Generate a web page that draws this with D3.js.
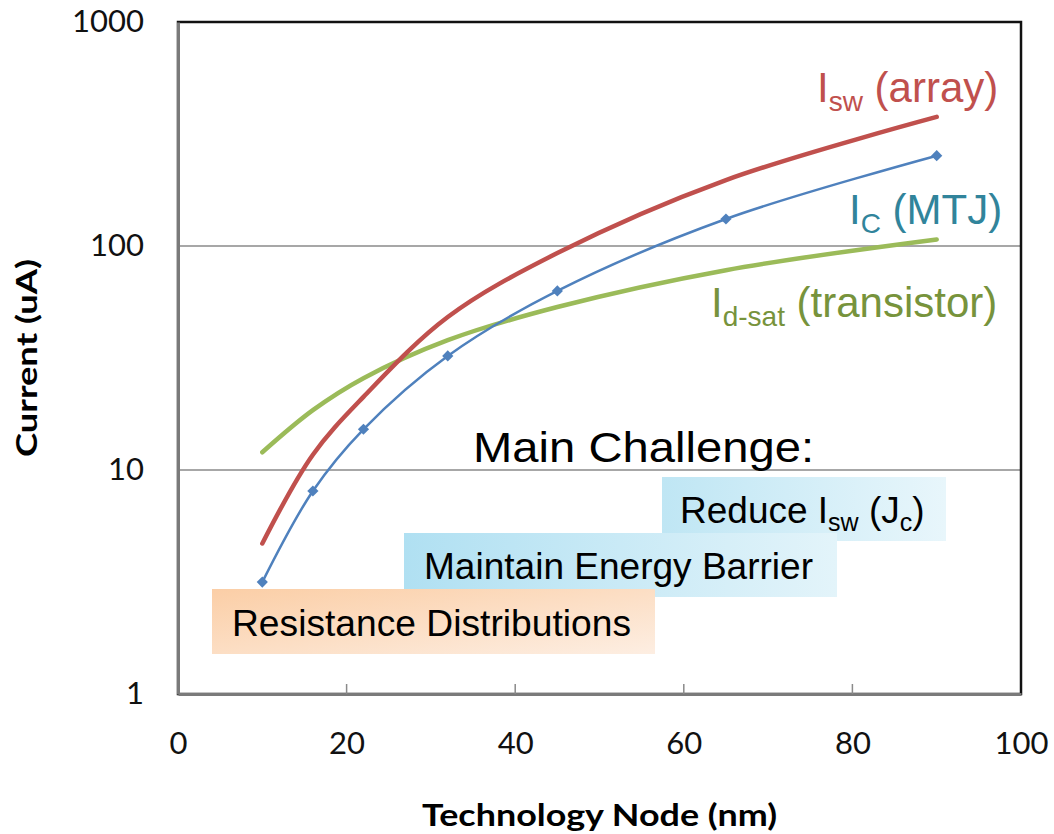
<!DOCTYPE html>
<html>
<head>
<meta charset="utf-8">
<script src="https://cdn.jsdelivr.net/npm/d3@7"></script>
<style>
  html, body { margin: 0; padding: 0; background: #fff; }
  svg { display: block; }
</style>
</head>
<body>
<div id="chart"></div>
<script>
// Data
const nodes = [10, 16, 22, 32, 45, 65, 90];            // technology node (nm)
const icMtj = [3.16, 8.06, 15.2, 32.3, 63, 132, 253];   // I_C (MTJ)
const iswArray = [4.7, 11.7, 21.2, 48.2, 93, 197, 377]; // I_sw (array)
const idSat = [12.0, 18.5, 25.7, 38, 53.4, 78, 107];    // I_d-sat (transistor)
const xTicks = [0, 20, 40, 60, 80, 100];
const yTicks = [1, 10, 100, 1000];

const W = 1054, H = 834;
const plotL = 178, plotR = 1021, plotT = 22, plotB = 694;

const svg = d3.select("#chart").append("svg")
    .attr("width", W)
    .attr("height", H);

const defs = svg.append("defs");

const x = d3.scaleLinear().domain([0, 100]).range([plotL, plotR]);
const y = d3.scaleLog().domain([1, 1000]).range([plotB, plotT]);

// gridlines
svg.append("g")
    .selectAll("line")
    .data(yTicks.slice(1, -1))
    .join("line")
    .attr("x1", plotL).attr("x2", plotR)
    .attr("y1", d => y(d)).attr("y2", d => y(d))
    .attr("stroke", "#8a8a8a")
    .attr("stroke-width", 1.5);

// plot border
svg.append("rect")
    .attr("x", plotL).attr("y", plotT)
    .attr("width", plotR - plotL).attr("height", plotB - plotT)
    .attr("fill", "none")
    .attr("stroke", "#111")
    .attr("stroke-width", 2.5);

// axes (gray, drawn on top of the border)
const xAxis = d3.axisBottom(x).tickValues(xTicks).tickSize(0).tickPadding(38);
const gx = svg.append("g")
    .attr("transform", `translate(0,${plotB})`)
    .call(xAxis);
gx.select(".domain").attr("stroke", "#7a7a7a").attr("stroke-width", 3);
gx.selectAll("text")
    .attr("font-family", "Lato, 'Open Sans', sans-serif")
    .attr("font-size", 31)
    .attr("fill", "#111");

// inner tick marks on the x axis
svg.append("g")
    .selectAll("line")
    .data(xTicks.slice(1, -1))
    .join("line")
    .attr("x1", d => x(d)).attr("x2", d => x(d))
    .attr("y1", plotB).attr("y2", plotB - 10)
    .attr("stroke", "#8a8a8a")
    .attr("stroke-width", 1.5);

const yAxis = d3.axisLeft(y).tickValues(yTicks).tickFormat(d3.format("d")).tickSize(0).tickPadding(34);
const gy = svg.append("g")
    .attr("transform", `translate(${plotL},0)`)
    .call(yAxis);
gy.select(".domain").attr("stroke", "#7a7a7a").attr("stroke-width", 3);
gy.selectAll("text")
    .attr("font-family", "Lato, 'Open Sans', sans-serif")
    .attr("font-size", 31)
    .attr("fill", "#111");

// axis titles
svg.append("text")
    .attr("transform", `translate(37,${(plotT + plotB) / 2}) rotate(-90)`)
    .attr("text-anchor", "middle")
    .attr("font-family", "Lato, 'Open Sans', sans-serif")
    .attr("font-weight", "bold")
    .attr("font-size", 29)
    .attr("textLength", 198)
    .attr("lengthAdjust", "spacingAndGlyphs")
    .text("Current (uA)");

svg.append("text")
    .attr("x", (plotL + plotR) / 2)
    .attr("y", 826)
    .attr("text-anchor", "middle")
    .attr("font-family", "Lato, 'Open Sans', sans-serif")
    .attr("font-weight", "bold")
    .attr("font-size", 30)
    .attr("textLength", 355)
    .attr("lengthAdjust", "spacingAndGlyphs")
    .text("Technology Node (nm)");

// challenge boxes
const grad = (id, c0, c1, x2, y2) => {
    const g = defs.append("linearGradient").attr("id", id)
        .attr("x1", "0%").attr("y1", "0%").attr("x2", x2).attr("y2", y2);
    g.append("stop").attr("offset", "0%").attr("stop-color", c0);
    g.append("stop").attr("offset", "100%").attr("stop-color", c1);
};
grad("gBlue1", "#bfe6f4", "#e8f6fb", "100%", "0%");
grad("gBlue2", "#b0e0f2", "#e3f4fa", "100%", "0%");
grad("gOrange", "#fbcea6", "#fdeee2", "100%", "100%");

const font = "'Liberation Sans', Arial, sans-serif";

const box = (x0, y0, w, h, fill) => svg.append("rect")
    .attr("x", x0).attr("y", y0).attr("width", w).attr("height", h)
    .attr("fill", `url(#${fill})`);

box(662, 477, 284, 64, "gBlue1");
const t1 = svg.append("text").attr("x", 680).attr("y", 523)
    .attr("font-family", font).attr("font-size", 37).attr("fill", "#000");
t1.append("tspan").text("Reduce I");
t1.append("tspan").attr("font-size", 25).attr("dy", 8).text("sw");
t1.append("tspan").attr("dy", -8).text(" (J");
t1.append("tspan").attr("font-size", 25).attr("dy", 8).text("c");
t1.append("tspan").attr("dy", -8).text(")");

box(404, 533, 433, 64, "gBlue2");
svg.append("text").attr("x", 424).attr("y", 579)
    .attr("font-family", font).attr("font-size", 37).attr("fill", "#000")
    .attr("textLength", 389).attr("lengthAdjust", "spacingAndGlyphs")
    .text("Maintain Energy Barrier");

box(212, 589, 443, 65, "gOrange");
svg.append("text").attr("x", 232).attr("y", 636)
    .attr("font-family", font).attr("font-size", 37).attr("fill", "#000")
    .attr("textLength", 399).attr("lengthAdjust", "spacingAndGlyphs")
    .text("Resistance Distributions");

svg.append("text").attr("x", 473).attr("y", 462)
    .attr("font-family", font).attr("font-size", 42).attr("fill", "#000")
    .attr("textLength", 341).attr("lengthAdjust", "spacingAndGlyphs")
    .text("Main Challenge:");

// series lines
const line = vals => d3.line()
    .x((d, i) => x(nodes[i]))
    .y(d => y(d))
    .curve(d3.curveCatmullRom.alpha(0.5))(vals);

svg.append("path").attr("d", line(idSat))
    .attr("fill", "none").attr("stroke", "#9BBB59")
    .attr("stroke-width", 4.5).attr("stroke-linecap", "round");

svg.append("path").attr("d", line(iswArray))
    .attr("fill", "none").attr("stroke", "#C0504D")
    .attr("stroke-width", 4.5).attr("stroke-linecap", "round");

svg.append("path").attr("d", line(icMtj))
    .attr("fill", "none").attr("stroke", "#4F81BD")
    .attr("stroke-width", 2.5);

svg.append("g")
    .selectAll("path")
    .data(icMtj)
    .join("path")
    .attr("transform", (d, i) => `translate(${x(nodes[i])},${y(d)})`)
    .attr("d", d3.symbol(d3.symbolDiamond2, 80))
    .attr("fill", "#4F81BD");

// series labels
const label = (x0, y0, main, sub, rest, color) => {
    const t = svg.append("text").attr("x", x0).attr("y", y0)
        .attr("font-family", font).attr("font-size", 42).attr("fill", color);
    t.append("tspan").text(main);
    t.append("tspan").attr("font-size", 28).attr("dy", 9).text(sub);
    t.append("tspan").attr("dy", -9).text(rest);
    return t;
};
label(817, 102, "I", "sw", " (array)", "#C0504D");
label(849, 224, "I", "C", " (MTJ)", "#31849B");
label(711, 317, "I", "d-sat", " (transistor)", "#77933C");
</script>
</body>
</html>
